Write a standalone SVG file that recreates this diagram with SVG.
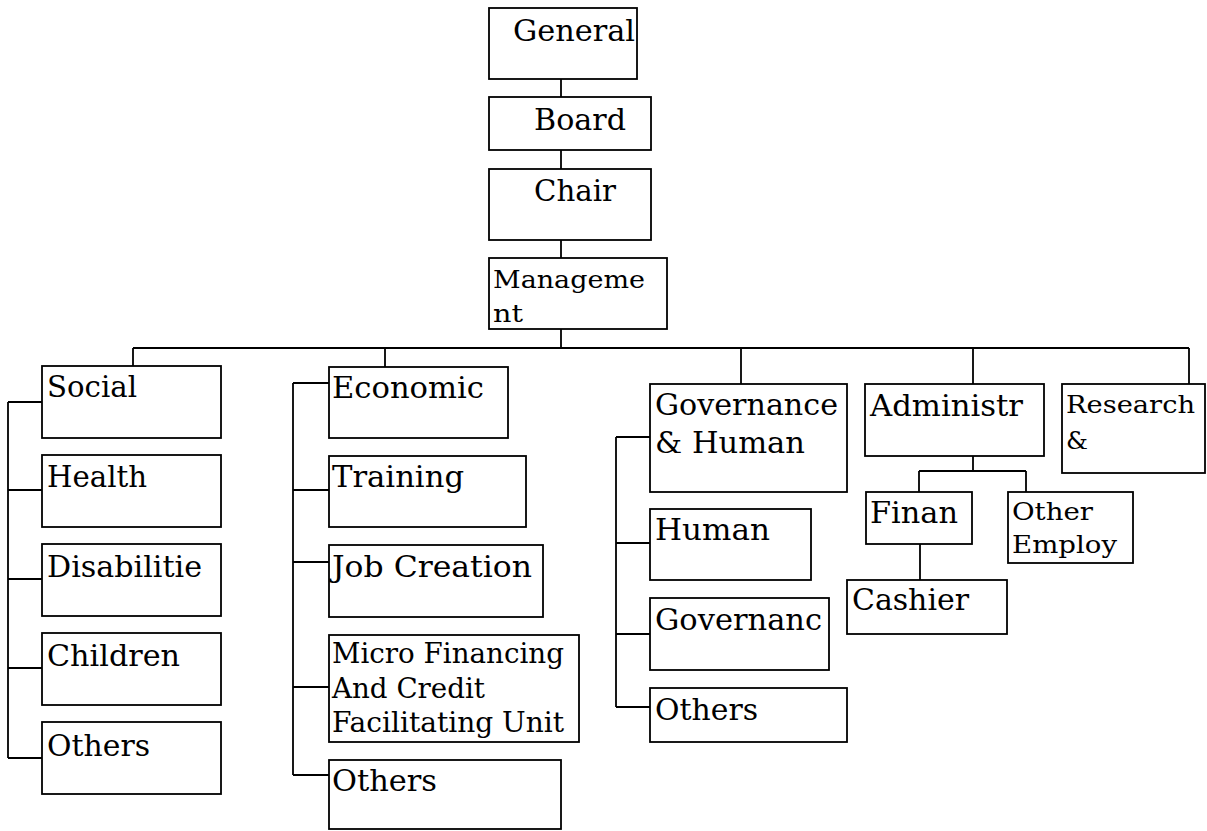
<svg xmlns="http://www.w3.org/2000/svg" width="1207" height="831" viewBox="0 0 1207 831">
<style>
.b{fill:#fff;stroke:#000;stroke-width:1.8}
.t{font-family:"DejaVu Serif","Liberation Serif",serif;font-size:30px;fill:#000}
.s{font-family:"DejaVu Serif","Liberation Serif",serif;font-size:25px;fill:#000}
.m{font-family:"DejaVu Serif","Liberation Serif",serif;font-size:27px;fill:#000}
.c{fill:none;stroke:#000;stroke-width:1.8}
</style>
<rect width="1207" height="831" fill="#fff"/>
<g id="connectors" class="c">
<path d="M561 79V97M561 150V169M561 240V258M561 329V348"/>
<path d="M133 348H1189M133 348V366M385 348V367M741 348V384M973 348V384M1189 348V384"/>
<path d="M8 402V758M8 402H42M8 490H42M8 579H42M8 668H42M8 758H42"/>
<path d="M293 383V775M293 383H329M293 490H329M293 562H329M293 687H329M293 775H329"/>
<path d="M616 437V707M616 437H650M616 543H650M616 634H650M616 707H650"/>
<path d="M973 456V471M919 471H1026M919 471V492M1026 471V492M920 544V580"/>
</g>
<g id="general"><rect class="b" x="489" y="8" width="148" height="71"/><text class="t" x="513" y="41" textLength="122" lengthAdjust="spacingAndGlyphs">General</text></g>
<g id="board"><rect class="b" x="489" y="97" width="162" height="53"/><text class="t" x="534" y="130" textLength="92" lengthAdjust="spacingAndGlyphs">Board</text></g>
<g id="chair"><rect class="b" x="489" y="169" width="162" height="71"/><text class="t" x="534" y="201" textLength="82" lengthAdjust="spacingAndGlyphs">Chair</text></g>
<g id="management"><rect class="b" x="489" y="258" width="178" height="71"/><text class="s" x="493" y="288" textLength="152" lengthAdjust="spacingAndGlyphs">Manageme</text><text class="s" x="493" y="322" textLength="30" lengthAdjust="spacingAndGlyphs">nt</text></g>
<g id="social"><rect class="b" x="42" y="366" width="179" height="72"/><text class="t" x="47" y="397" textLength="90" lengthAdjust="spacingAndGlyphs">Social</text></g>
<g id="health"><rect class="b" x="42" y="455" width="179" height="72"/><text class="t" x="47" y="487" textLength="100" lengthAdjust="spacingAndGlyphs">Health</text></g>
<g id="disabilities"><rect class="b" x="42" y="544" width="179" height="72"/><text class="t" x="47" y="577" textLength="155" lengthAdjust="spacingAndGlyphs">Disabilitie</text></g>
<g id="children"><rect class="b" x="42" y="633" width="179" height="72"/><text class="t" x="47" y="666" textLength="133" lengthAdjust="spacingAndGlyphs">Children</text></g>
<g id="social-others"><rect class="b" x="42" y="722" width="179" height="72"/><text class="t" x="47" y="756" textLength="103" lengthAdjust="spacingAndGlyphs">Others</text></g>
<g id="economic"><rect class="b" x="329" y="367" width="179" height="71"/><text class="t" x="332" y="398" textLength="152" lengthAdjust="spacingAndGlyphs">Economic</text></g>
<g id="training"><rect class="b" x="329" y="456" width="197" height="71"/><text class="t" x="332" y="487" textLength="132" lengthAdjust="spacingAndGlyphs">Training</text></g>
<g id="job-creation"><rect class="b" x="329" y="545" width="214" height="72"/><text class="t" x="332" y="577" textLength="200" lengthAdjust="spacingAndGlyphs">Job Creation</text></g>
<g id="micro"><rect class="b" x="329" y="635" width="250" height="107"/><text class="m" x="332" y="663" textLength="232" lengthAdjust="spacingAndGlyphs">Micro Financing</text><text class="m" x="332" y="698" textLength="153" lengthAdjust="spacingAndGlyphs">And Credit</text><text class="m" x="332" y="732" textLength="232" lengthAdjust="spacingAndGlyphs">Facilitating Unit</text></g>
<g id="economic-others"><rect class="b" x="329" y="760" width="232" height="69"/><text class="t" x="332" y="791" textLength="105" lengthAdjust="spacingAndGlyphs">Others</text></g>
<g id="governance-human"><rect class="b" x="650" y="384" width="197" height="108"/><text class="t" x="655" y="415" textLength="183" lengthAdjust="spacingAndGlyphs">Governance</text><text class="t" x="655" y="453" textLength="150" lengthAdjust="spacingAndGlyphs">&amp; Human</text></g>
<g id="human"><rect class="b" x="650" y="509" width="161" height="71"/><text class="t" x="655" y="540" textLength="115" lengthAdjust="spacingAndGlyphs">Human</text></g>
<g id="governance"><rect class="b" x="650" y="598" width="179" height="72"/><text class="t" x="655" y="630" textLength="167" lengthAdjust="spacingAndGlyphs">Governanc</text></g>
<g id="governance-others"><rect class="b" x="650" y="688" width="197" height="54"/><text class="t" x="655" y="720" textLength="103" lengthAdjust="spacingAndGlyphs">Others</text></g>
<g id="administration"><rect class="b" x="865" y="384" width="179" height="72"/><text class="t" x="870" y="416" textLength="153" lengthAdjust="spacingAndGlyphs">Administr</text></g>
<g id="research"><rect class="b" x="1062" y="384" width="143" height="89"/><text class="s" x="1066" y="413" textLength="129" lengthAdjust="spacingAndGlyphs">Research</text><text class="s" x="1066" y="449" textLength="22" lengthAdjust="spacingAndGlyphs">&amp;</text></g>
<g id="finance"><rect class="b" x="866" y="492" width="106" height="52"/><text class="t" x="870" y="523" textLength="88" lengthAdjust="spacingAndGlyphs">Finan</text></g>
<g id="other-employ"><rect class="b" x="1008" y="492" width="125" height="71"/><text class="s" x="1012" y="520" textLength="81" lengthAdjust="spacingAndGlyphs">Other</text><text class="s" x="1012" y="553" textLength="105" lengthAdjust="spacingAndGlyphs">Employ</text></g>
<g id="cashier"><rect class="b" x="847" y="580" width="160" height="54"/><text class="t" x="852" y="610" textLength="117" lengthAdjust="spacingAndGlyphs">Cashier</text></g>
</svg>
